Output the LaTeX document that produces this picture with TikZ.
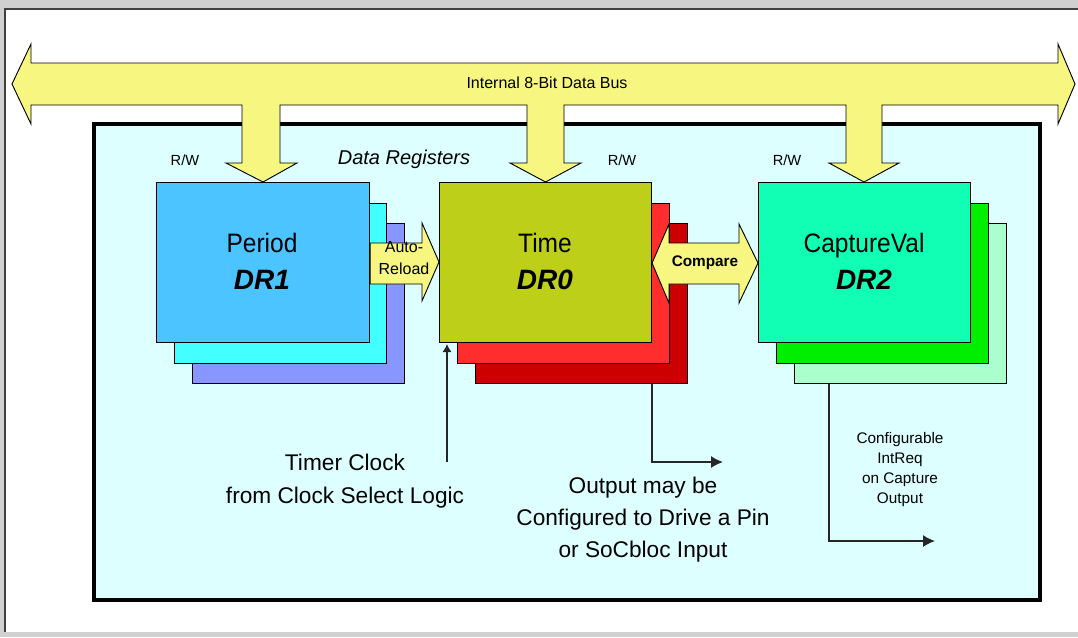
\documentclass[tikz,border=0pt]{standalone}
\usepackage{fontspec}
\setmainfont{Liberation Sans}
\newfontfamily\regfont[FakeStretch=0.92]{Liberation Sans}
\usetikzlibrary{arrows.meta,calc}

\definecolor{framegray}{RGB}{208,208,208}
\definecolor{busyellow}{RGB}{246,246,128}
\definecolor{panelcyan}{RGB}{221,255,255}
\definecolor{perA}{RGB}{75,196,255}
\definecolor{perB}{RGB}{68,255,255}
\definecolor{perC}{RGB}{136,150,255}
\definecolor{timA}{RGB}{190,207,26}
\definecolor{timB}{RGB}{255,45,45}
\definecolor{timC}{RGB}{204,0,0}
\definecolor{capA}{RGB}{16,255,180}
\definecolor{capB}{RGB}{0,238,0}
\definecolor{capC}{RGB}{170,255,204}

\begin{document}
\begin{tikzpicture}[x=0.75pt,y=-0.75pt,
  regbox/.style={draw=black, line width=0.8pt, inner sep=0pt, anchor=north west,
    minimum width={212*0.75pt}, minimum height={160*0.75pt}},
  fatarrow/.style={draw=black, line width=0.7pt, fill=busyellow, line join=miter},
  regname/.style={anchor=base, font=\regfont\fontsize{20}{24}\selectfont},
  regid/.style={anchor=base, font=\bfseries\itshape\fontsize{21}{25}\selectfont},
  rwlabel/.style={font=\fontsize{11}{13}\selectfont, inner sep=0pt},
  note/.style={align=center, inner sep=0pt},
  wire/.style={line width=1.1pt, draw=black!85},
  outtip/.style={-{Latex[length=9pt,width=9pt]}}]

\useasboundingbox (0,0) rectangle (1078,637);

% window frame
\fill[framegray] (0,0) rectangle (1078,637);
\fill[white] (5,9) rectangle (1078,632);
\draw[black!75, line width=1.5pt] (5,632) -- (5,9) -- (1078,9);

% register panel
\draw[fill=panelcyan, line width=3pt] (94,124) rectangle (1040,600);

% Period register stack
\node[regbox, fill=perC] (p3) at (192,223) {};
\node[regbox, fill=perB] (p2) at (174,203) {};
\node[regbox, fill=perA, minimum width={213*0.75pt}] (period) at (156,182) {};

% Time register stack
\node[regbox, fill=timC] (t3) at (475,223) {};
\node[regbox, fill=timB] (t2) at (457,203) {};
\node[regbox, fill=timA] (time) at (439,182) {};

% CaptureVal register stack
\node[regbox, fill=capC] (c3) at (794,223) {};
\node[regbox, fill=capB] (c2) at (776,203) {};
\node[regbox, fill=capA] (capture) at (758,182) {};

% auto-reload arrow from Period into Time
\path[fatarrow] (period.east |- 0,243) -- (422,243) -- (422,223) -- (time.west |- 0,262)
  -- (422,301) -- (422,284) -- (period.east |- 0,284) -- cycle;
\node[note, font=\fontsize{12}{16.5}\selectfont] (reload) at (404,258) {Auto-\\Reload};

% compare arrow between Time and CaptureVal
\path[fatarrow] (time.east |- 0,263) -- (669,224) -- (669,243) -- (739,243) -- (739,224)
  -- (capture.west |- 0,263) -- (739,303) -- (739,284) -- (669,284) -- (669,303) -- cycle;
\node[font=\bfseries\fontsize{11.5}{14}\selectfont, inner sep=0pt] (cmp) at (705,263) {Compare};

% internal data bus with its three taps
\path[fatarrow] (12,84) -- (31,44) -- (31,63) -- (1058,63) -- (1058,44) -- (1075,84)
  -- (1058,124) -- (1058,105)
  -- (882,105) -- (882,163) -- (899,163) -- (capture.north -| 864,0) -- (829,163) -- (846,163) -- (846,105)
  -- (564,105) -- (564,163) -- (581,163) -- (time.north) -- (510,163) -- (527,163) -- (527,105)
  -- (280,105) -- (280,163) -- (297,163) -- (period.north) -- (226,163) -- (242,163) -- (242,105)
  -- (31,105) -- (31,124) -- cycle;
\node[font=\fontsize{12}{14}\selectfont, inner sep=0pt] (bus) at (547,83) {Internal 8-Bit Data Bus};

% panel labels
\node[rwlabel] (rw1) at (185,160) {R/W};
\node[rwlabel] (rw0) at (622,160) {R/W};
\node[rwlabel] (rw2) at (787,160) {R/W};
\node[font=\itshape\fontsize{15}{18}\selectfont, inner sep=0pt] (dreg) at (404,159) {Data Registers};

% register names
\node[regname] at (262,252) {Period};
\node[regid] at (262,289) {DR1};
\node[regname] at (545,252) {Time};
\node[regid] at (545,289) {DR0};
\node[regname] at (864,252) {CaptureVal};
\node[regid] at (864,289) {DR2};

% timer clock input
\coordinate (clk) at (447,462);
\draw[wire, -{Latex[length=6pt,width=7pt]}] (clk) -- ($(time.south west)+(8,1)$);
\node[note, font=\fontsize{17}{24.5}\selectfont] (clktext) at (345,481)
  {Timer Clock\\from Clock Select Logic};

% compare output
\coordinate (outend) at (723,462);
\draw[wire, outtip] (time.east |- t3.south) |- (outend);
\node[note, font=\fontsize{17}{24}\selectfont] (outtext) at (643,520)
  {Output may be\\Configured to Drive a Pin\\or SoCbloc Input};

% capture interrupt output
\coordinate (capend) at (935,541);
\draw[wire, outtip] ($(c3.south west)+(35,0)$) |- (capend);
\node[note, font=\fontsize{11.5}{15}\selectfont] (captext) at (900,470)
  {Configurable\\IntReq\\on Capture\\Output};

\end{tikzpicture}
\end{document}
